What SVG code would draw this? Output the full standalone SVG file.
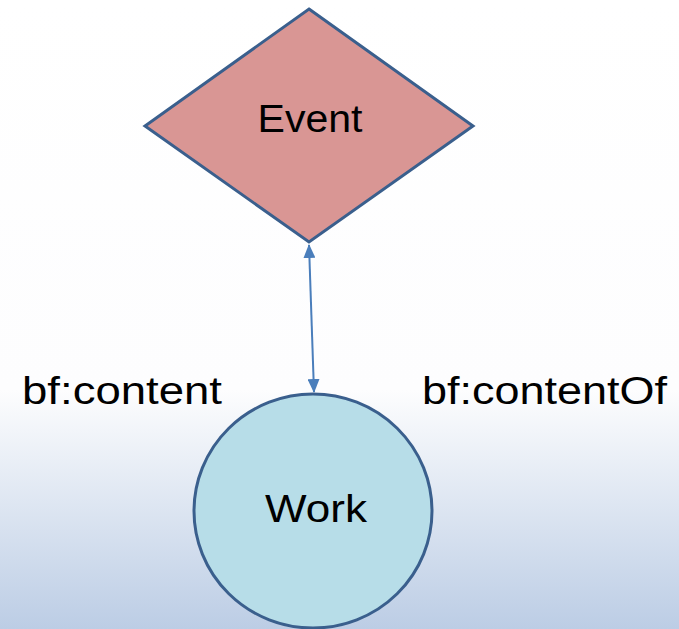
<svg xmlns="http://www.w3.org/2000/svg" width="679" height="629" viewBox="0 0 679 629">
<defs>
<linearGradient id="bg" x1="0" y1="0" x2="0" y2="1">
<stop offset="0" stop-color="#ffffff"/>
<stop offset="0.62" stop-color="#fdfdfe"/>
<stop offset="0.66" stop-color="#f6f8fb"/>
<stop offset="1" stop-color="#bccde5"/>
</linearGradient>
<marker id="ah" viewBox="0 0 14 12" refX="13" refY="6" markerWidth="14" markerHeight="12" orient="auto-start-reverse" markerUnits="userSpaceOnUse">
<path d="M0,0 L14,6 L0,12 z" fill="#4a7ebb"/>
</marker>
<style>
.lbl{font-family:"Liberation Sans",Arial,sans-serif;font-size:38px;fill:#000}
.node{stroke:#3a5f8d;stroke-width:3}
</style>
</defs>
<rect width="679" height="629" fill="url(#bg)"/>
<g id="connectors">
<line x1="309" y1="245" x2="314" y2="392" stroke="#4a7ebb" stroke-width="2" marker-start="url(#ah)" marker-end="url(#ah)"/>
</g>
<g id="event">
<polygon class="node" points="309,9 473,126 309,242 145,126" fill="#d99694"/>
<text class="lbl" x="310" y="132" text-anchor="middle" textLength="105" lengthAdjust="spacingAndGlyphs">Event</text>
</g>
<g id="work">
<ellipse class="node" cx="313" cy="511" rx="119" ry="117" fill="#b7dde8"/>
<text class="lbl" x="316" y="522" text-anchor="middle" textLength="102" lengthAdjust="spacingAndGlyphs">Work</text>
</g>
<g id="labels">
<text class="lbl" x="22" y="404" textLength="200" lengthAdjust="spacingAndGlyphs">bf:content</text>
<text class="lbl" x="422" y="404" textLength="245" lengthAdjust="spacingAndGlyphs">bf:contentOf</text>
</g>
</svg>
